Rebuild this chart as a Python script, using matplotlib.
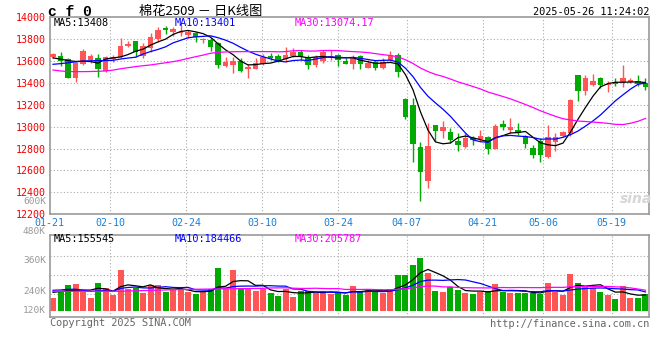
import numpy as np
import pandas as pd
import matplotlib
matplotlib.use("Agg")
import matplotlib.pyplot as plt

# 棉花2509 daily bars, 2025-01-21 .. 2025-05-26 (80 sessions)
opens = [13640, 13647, 13623, 13449, 13571, 13611, 13626, 13513, 13617, 13638,
         13742, 13785, 13644, 13724, 13803, 13901, 13864, 13855, 13840, 13855,
         13790, 13794, 13770, 13559, 13565, 13602, 13525, 13528, 13571, 13647,
         13647, 13617, 13647, 13687, 13641, 13565, 13602, 13635, 13657, 13602,
         13574, 13647, 13541, 13596, 13541, 13611, 13657, 13258, 13203, 12819,
         12500, 13013, 12963, 12955, 12872, 12811, 12899, 12892, 12909, 12800,
         13029, 12974, 12970, 12915, 12803, 12870, 12726, 12864, 12919, 12940,
         13474, 13330, 13382, 13449, 13382, 13413, 13413, 13413, 13419, 13397]
highs = [13675, 13687, 13626, 13596, 13708, 13663, 13663, 13647, 13657, 13809,
         13785, 13788, 13763, 13855, 13916, 13922, 13910, 13930, 13885, 13870,
         13810, 13809, 13779, 13641, 13641, 13626, 13571, 13626, 13663, 13672,
         13663, 13733, 13718, 13702, 13657, 13657, 13702, 13699, 13663, 13626,
         13657, 13657, 13611, 13611, 13626, 13693, 13672, 13264, 13264, 12858,
         13030, 13018, 13055, 12988, 12942, 12945, 12916, 12968, 12919, 13029,
         13066, 13084, 13038, 12925, 12833, 12900, 13016, 12940, 12961, 13254,
         13476, 13474, 13483, 13458, 13419, 13443, 13565, 13443, 13474, 13443]
lows = [13630, 13559, 13445, 13413, 13565, 13580, 13452, 13504, 13596, 13626,
        13730, 13641, 13626, 13687, 13779, 13849, 13830, 13830, 13809, 13779,
        13763, 13693, 13541, 13550, 13495, 13504, 13449, 13525, 13565, 13611,
        13590, 13596, 13638, 13611, 13529, 13550, 13580, 13611, 13559, 13571,
        13525, 13525, 13535, 13519, 13529, 13602, 13458, 13071, 12681, 12317,
        12440, 12866, 12896, 12850, 12780, 12805, 12835, 12868, 12753, 12797,
        12974, 12944, 12925, 12809, 12717, 12675, 12717, 12778, 12910, 12919,
        13236, 13291, 13373, 13358, 13321, 13373, 13367, 13397, 13373, 13333]
closes = [13665, 13605, 13449, 13587, 13693, 13647, 13532, 13638, 13638, 13736,
          13757, 13681, 13736, 13821, 13885, 13882, 13895, 13870, 13870, 13824,
          13800, 13733, 13565, 13596, 13602, 13513, 13550, 13580, 13641, 13626,
          13602, 13657, 13687, 13641, 13565, 13641, 13681, 13650, 13611, 13574,
          13635, 13571, 13580, 13535, 13596, 13657, 13504, 13087, 12843, 12584,
          12828, 12963, 13002, 12881, 12829, 12899, 12881, 12919, 12792, 13005,
          12996, 13002, 12940, 12839, 12742, 12742, 12909, 12903, 12955, 13245,
          13330, 13449, 13419, 13382, 13394, 13391, 13449, 13428, 13391, 13361]
# volume, thousand lots
volumes = [127, 186, 258, 268, 186, 127, 274, 225, 160, 402,
           219, 228, 176, 255, 255, 186, 203, 203, 186, 170,
           186, 219, 421, 213, 405, 228, 213, 196, 219, 179,
           147, 219, 137, 196, 193, 179, 196, 170, 186, 154,
           245, 193, 213, 186, 176, 219, 348, 348, 446, 519,
           375, 196, 186, 235, 209, 176, 170, 186, 193, 265,
           186, 179, 179, 179, 179, 170, 274, 186, 160, 363,
           274, 235, 225, 189, 160, 115, 245, 127, 127, 170]

# MA values at the start, where the window reaches back before 01-21
ma5_head = [13630, 13618, 13605, 13597]
ma10_head = [13571, 13577, 13585, 13593, 13600, 13603, 13605, 13605, 13608]
ma30_head = [13519, 13510, 13505, 13504, 13504, 13505, 13507, 13510, 13518, 13530,
             13540, 13550, 13558, 13565, 13575, 13585, 13595, 13608, 13625, 13640,
             13655, 13672, 13680, 13684, 13686, 13687, 13687, 13687, 13687]
vma5_head = [183, 191, 201, 203]
vma10_head = [203, 206, 213, 213, 203, 191, 199, 199, 191]
vma30_head = [193, 193, 193, 193, 193, 193, 193, 193, 193, 193,
              196, 198, 200, 202, 204, 206, 208, 210, 212, 213,
              214, 215, 216, 217, 218, 219, 220, 221, 222]

tick_labels = ["01-21", "02-10", "02-24", "03-10", "03-24", "04-07", "04-21", "05-06", "05-19"]
tick_index = [0, 8, 18, 28, 38, 47, 57, 65, 74]
price_ticks = [12200, 12400, 12600, 12800, 13000, 13200, 13400, 13600, 13800, 14000]

price_header = ["MA5:13408", "MA10:13401", "MA30:13074.17"]
vol_header = ["MA5:155545", "MA10:184466", "MA30:205787"]
vol_labels = ["600K", "480K", "360K", "240K", "120K"]

RED = "#ff5555"
GREEN = "#00aa00"
GRID = "#aaaaaa"
BORDER = "#999999"
W, H = 660, 360


def fx(x):
    return x / W


def fy(y):
    return 1 - y / H


def with_head(values, n, head):
    ma = pd.Series(values, dtype=float).rolling(n).mean().to_numpy()
    ma[:n - 1] = head
    return ma


def grid_x(i):
    # sina spaces its date grid a bit wider than the candles
    return -0.47 + i * 7.6 / 7.5


idx = np.arange(len(closes))
o = np.array(opens)
c = np.array(closes)
up = c >= o
colors = np.where(up, RED, GREEN)

fig = plt.figure(figsize=(6.6, 3.6), dpi=100)
ax = fig.add_axes([fx(49.5), fy(214.2), fx(599.5), (214.2 - 17.4) / H])
axv = fig.add_axes([fx(49.5), fy(317.3), fx(599.5), (317.3 - 234.7) / H])

dots = dict(color=GRID, lw=0.8, linestyle=(0, (1, 2)))
xticks = [grid_x(i) for i in tick_index]

# price panel
for v in price_ticks[1:-1]:
    ax.axhline(v, zorder=0, **dots)
for t in xticks[1:]:
    ax.axvline(t, zorder=0, **dots)
    axv.axvline(t, zorder=0, **dots)

ax.vlines(idx, lows, highs, colors=colors, lw=1.0, zorder=2)
body = np.maximum(np.abs(c - o), 8)
ax.bar(idx, body, bottom=np.minimum(o, c), width=0.78, color=colors, zorder=3, linewidth=0)

ax.plot(idx, with_head(closes, 5, ma5_head), color="black", lw=0.9, zorder=4)
ax.plot(idx, with_head(closes, 10, ma10_head), color="#0000ff", lw=0.9, zorder=4)
ax.plot(idx, with_head(closes, 30, ma30_head), color="#ff00ff", lw=0.9, zorder=4)

ax.set_xlim(-0.47, 79.47)
ax.set_ylim(12200, 14000)
ax.set_yticks(price_ticks)
ax.set_yticklabels([str(v) for v in price_ticks], color="#ee0000",
                   family="DejaVu Sans Mono", fontsize=7.2)
ax.set_xticks(xticks)
ax.set_xticklabels(tick_labels, color="#1a7fd4", family="DejaVu Sans Mono", fontsize=7.2)
ax.tick_params(length=0, pad=2.5)

# volume panel
for v in [170, 356, 542]:
    axv.axhline(v, zorder=0, **dots)
axv.bar(idx, volumes, width=0.8, color=colors, zorder=2, linewidth=0)
axv.plot(idx, with_head(volumes, 5, vma5_head), color="black", lw=0.9, zorder=3)
axv.plot(idx, with_head(volumes, 10, vma10_head), color="#0000ff", lw=0.9, zorder=3)
axv.plot(idx, with_head(volumes, 30, vma30_head), color="#ff00ff", lw=0.9, zorder=3)
axv.set_xlim(-0.47, 79.47)
axv.set_ylim(-62, 748)
axv.set_xticks([])
axv.set_yticks([])

for a in (ax, axv):
    for s in a.spines.values():
        s.set_color(BORDER)
        s.set_linewidth(1.2)

mono = "DejaVu Sans Mono"
# headers
fig.text(fx(48), fy(12), "c f 0", family="Liberation Mono", weight="bold",
         fontsize=10.5, va="center", ha="left")
fig.text(fx(201), fy(11), "棉花2509 － 日K线图", family=["Noto Sans CJK SC", "DejaVu Sans"],
         fontsize=9.5, va="center", ha="center")
fig.text(fx(649), fy(12), "2025-05-26 11:24:02", family=mono, fontsize=7.4,
         va="center", ha="right")

for (txt, x, col) in zip(price_header, [54, 175, 295], ["black", "#0000ff", "#ff00ff"]):
    fig.text(fx(x), fy(23.5), txt, family=mono, fontsize=7.4, color=col, va="center", ha="left")
for (txt, x, col) in zip(vol_header, [54, 175, 295], ["black", "#0000ff", "#ff00ff"]):
    fig.text(fx(x), fy(239), txt, family=mono, fontsize=7.4, color=col, va="center", ha="left")

for txt, y in zip(vol_labels, [201.5, 231, 260.7, 291, 310.7]):
    fig.text(fx(46), fy(y), txt, family=mono, fontsize=6.8, color="#999999",
             va="center", ha="right")

fig.text(fx(50), fy(323.5), "Copyright 2025 SINA.COM", family=mono, fontsize=7.4,
         color="#666666", va="center", ha="left")
fig.text(fx(649), fy(324), "http://finance.sina.com.cn", family=mono, fontsize=7.4,
         color="#666666", va="center", ha="right")
fig.text(fx(636), fy(199), "sina", fontsize=10, style="italic", weight="bold",
         color="#d6d6d6", va="center", ha="center")

fig.savefig("out.png", dpi=100, facecolor="white")
